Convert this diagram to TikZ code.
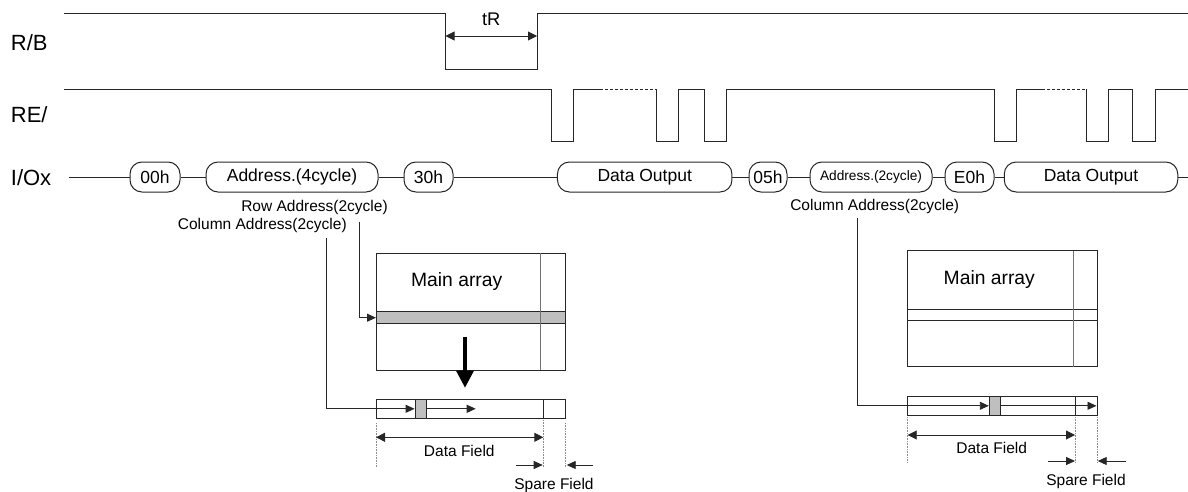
\documentclass[tikz,border=0pt]{standalone}
\usepackage{fontspec}
\setmainfont{Liberation Sans}
\usetikzlibrary{arrows.meta}
\begin{document}
\begin{tikzpicture}[x=1pt,y=-1pt,
  wave/.style={line width=1pt, draw=black!85},
  thin/.style={line width=0.9pt, draw=black!85},
  divider/.style={line width=0.9pt, draw=black!55},
  busbox/.style={draw=black!85, line width=1pt, rounded corners=12pt, minimum height=30pt, inner sep=0pt, font=\fontsize{17.5}{20}\selectfont},
  siglabel/.style={anchor=west, inner sep=0pt, font=\fontsize{22}{26}\selectfont},
  note/.style={inner sep=0pt, font=\fontsize{15.5}{18}\selectfont},
  titletext/.style={inner sep=0pt, font=\fontsize{19.3}{22}\selectfont},
  tipto/.style={line width=0.9pt, draw=black!85, -{Triangle[length=9pt,width=8pt]}},
  dimline/.style={line width=0.9pt, draw=black!85, {Triangle[length=9pt,width=9pt]}-{Triangle[length=9pt,width=9pt]}},
  guide/.style={line width=0.6pt, draw=black!45, densely dotted},
  cellfill/.style={fill=black!25, draw=black!85, line width=0.9pt}
]
\useasboundingbox (0,0) rectangle (1188,492);

% ---------- R/B ----------
\node[siglabel] (rb) at (10.7,42.7) {R/B};
\draw[wave] (64,13.3) -- (445.5,13.3) -- (445.5,69.3) -- (537,69.3) -- (537,13.3) -- (1188,13.3);
\coordinate (trl) at (445.5,36);
\coordinate (trr) at (537,36);
\draw[dimline] (trl) -- (trr);
\node[inner sep=0pt, font=\fontsize{18.3}{21}\selectfont] (tr) at (491.3,19.5) {tR};

% ---------- RE/ ----------
\node[siglabel] (re) at (10.7,115) {RE/};
\draw[wave] (64,89.3) -- (551.5,89.3) -- (551.5,141.7) -- (573.7,141.7) -- (573.7,89.3) -- (600,89.3);
\draw[wave, dash pattern=on 3pt off 2pt] (600,89.3) -- (656,89.3);
\draw[wave] (656,89.3) -- (656,141.7) -- (678,141.7) -- (678,89.3) -- (704,89.3) -- (704,141.7) -- (726,141.7) -- (726,89.3)
  -- (994,89.3) -- (994,141.7) -- (1016,141.7) -- (1016,89.3) -- (1042,89.3);
\draw[wave, dash pattern=on 3pt off 2pt] (1042,89.3) -- (1086,89.3);
\draw[wave] (1086,89.3) -- (1086,141.7) -- (1108,141.7) -- (1108,89.3) -- (1132.5,89.3) -- (1132.5,141.7) -- (1155.5,141.7) -- (1155.5,89.3) -- (1188,89.3);

% ---------- I/Ox ----------
\node[siglabel] (io) at (10.7,177.7) {I/Ox};
\coordinate (iostart) at (69,177);
\coordinate (ioend) at (1188,177);
\node[busbox, minimum width=50pt] (b00) at (155,177) {00h};
\node[busbox, minimum width=172pt] (ba4) at (292,177) {Address.(4cycle)};
\node[busbox, minimum width=49pt] (b30) at (428.5,177) {30h};
\node[busbox, minimum width=174.5pt] (bdo1) at (644.7,177) {Data Output};
\node[busbox, minimum width=38pt] (b05) at (768,177) {05h};
\node[busbox, minimum width=122pt, font=\fontsize{13.7}{16}\selectfont] (ba2) at (871,177) {Address.(2cycle)};
\node[busbox, minimum width=49pt] (be0) at (969.5,177) {E0h};
\node[busbox, minimum width=173.5pt] (bdo2) at (1091,177) {Data Output};
\draw[wave] (iostart) -- (b00);
\draw[wave] (b00) -- (ba4);
\draw[wave] (ba4) -- (b30);
\draw[wave] (b30) -- (bdo1);
\draw[wave] (bdo1) -- (b05);
\draw[wave] (b05) -- (ba2);
\draw[wave] (ba2) -- (be0);
\draw[wave] (be0) -- (bdo2);
\draw[wave] (bdo2) -- (ioend);

\node[note] (rowlbl) at (314.5,207.5) {Row Address(2cycle)};
\node[note] (collbl) at (262.3,225.7) {Column Address(2cycle)};
\node[note] (collbl2) at (874.7,206) {Column Address(2cycle)};

% ---------- left array ----------
\fill[black!25] (376,311.7) rectangle (565.7,323.7);
\draw[thin] (376,253.3) rectangle (565.7,370);
\draw[thin] (376,311.7) -- (565.7,311.7);
\draw[thin] (376,323.7) -- (565.7,323.7);
\draw[divider] (540.7,253.3) -- (540.7,370);
\node[titletext] (ma1) at (456.7,281.7) {Main array};

\coordinate (rowtop) at (359.3,221.7);
\coordinate (rowin) at (376,317.7);
\draw[tipto] (rowtop) |- (rowin);

\draw[line width=3.3pt, draw=black, -{Triangle[length=17pt,width=17pt]}] (465,336.7) -- (465,387.7);

\draw[thin] (376,399.3) rectangle (565.7,418.3);
\draw[thin] (543.3,399.3) -- (543.3,418.3);
\node[cellfill, minimum width=11pt, minimum height=19pt, inner sep=0pt] (cell1) at (420.5,408.8) {};
\coordinate (coltop) at (326,238.3);
\draw[tipto] (coltop) |- (cell1.west);
\coordinate (scan1) at (475.7,408.8);
\draw[tipto] (cell1.east) -- (scan1);

\draw[guide] (376,423) -- (376,467);
\draw[guide] (543.3,420) -- (543.3,467);
\draw[guide] (565.7,423) -- (565.7,467);
\draw[dimline] (376,437.3) -- (543.3,437.3);
\node[note] (df1) at (459.3,451) {Data Field};
\draw[tipto] (516,465) -- (542.7,465);
\draw[tipto] (593.3,465) -- (566.7,465);
\node[note] (sf1) at (554,485) {Spare Field};

% ---------- right array ----------
\draw[thin] (907.7,250.7) rectangle (1097.3,366.7);
\draw[thin] (907.7,309) -- (1097.3,309);
\draw[thin] (907.7,320.7) -- (1097.3,320.7);
\draw[divider] (1073.3,250.7) -- (1073.3,366.7);
\node[titletext] (ma2) at (989.3,280) {Main array};

\draw[thin] (907.7,396.7) rectangle (1097.3,415);
\draw[thin] (1075,396.7) -- (1075,415);
\node[cellfill, minimum width=10.7pt, minimum height=18.3pt, inner sep=0pt] (cell2) at (994.6,405.8) {};
\coordinate (coltop2) at (857.7,218);
\draw[tipto] (coltop2) |- (cell2.west);
\coordinate (scan2) at (1096.5,405.8);
\draw[tipto] (cell2.east) -- (scan2);

\draw[guide] (907.7,417) -- (907.7,463);
\draw[guide] (1075,417) -- (1075,463);
\draw[guide] (1097.3,417) -- (1097.3,463);
\draw[dimline] (907.7,435) -- (1075,435);
\node[note] (df2) at (991.7,448.3) {Data Field};
\draw[tipto] (1048.3,461) -- (1075,461);
\draw[tipto] (1125.7,461) -- (1097.7,461);
\node[note] (sf2) at (1086,481.7) {Spare Field};
\end{tikzpicture}
\end{document}
